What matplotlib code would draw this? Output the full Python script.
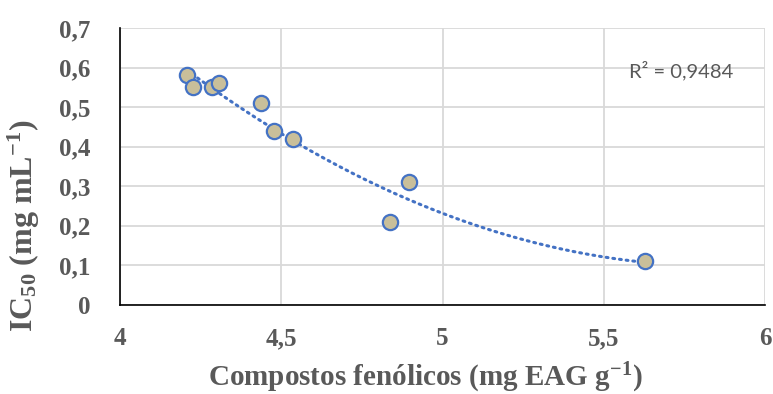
import numpy as np
import matplotlib
matplotlib.use('Agg')
from matplotlib import pyplot as plt

# ---------------- data ----------------
fenolicos = [4.207, 4.227, 4.286, 4.307, 4.437, 4.477, 4.536, 4.897, 4.838, 5.628]
ic50 = [0.58, 0.55, 0.55, 0.56, 0.51, 0.44, 0.42, 0.31, 0.21, 0.11]
x_ticks = [4, 4.5, 5, 5.5, 6]
x_tick_labels = ['4', '4,5', '5', '5,5', '6']
y_ticks = [0, 0.1, 0.2, 0.3, 0.4, 0.5, 0.6, 0.7]
y_tick_labels = ['0', '0,1', '0,2', '0,3', '0,4', '0,5', '0,6', '0,7']
r2_label = 'R² = 0,9484'

GRAY = '#595959'
BLUE = '#4472C4'

plt.rcParams['mathtext.fontset'] = 'custom'
plt.rcParams['mathtext.rm'] = 'Liberation Serif:bold'
plt.rcParams['mathtext.it'] = 'Liberation Serif:bold'
plt.rcParams['mathtext.bf'] = 'Liberation Serif:bold'
plt.rcParams['mathtext.default'] = 'rm'

# polynomial trendline (order 2), like the spreadsheet one
coef = np.polyfit(fenolicos, ic50, 2)
xs = np.linspace(min(fenolicos), max(fenolicos), 200)
ys = np.polyval(coef, xs)

fig = plt.figure(figsize=(7.73, 3.94), dpi=100)
ax = fig.add_axes([0.1552, 0.2269, 0.8345, 0.702])

ax.plot(xs, ys, linestyle=(0, (0.6, 1.6)), color=BLUE, linewidth=2.2,
        dash_capstyle='round', zorder=3)
ax.plot(fenolicos, ic50, linestyle='none', marker='o', markersize=11,
        markerfacecolor='#C9BF9A', markeredgecolor=BLUE, markeredgewidth=1.6, zorder=4)

ax.set_xlim(4, 6)
ax.set_ylim(0, 0.7)
ax.set_xticks(x_ticks)
ax.set_xticklabels(x_tick_labels)
ax.set_yticks(y_ticks)
ax.set_yticklabels(y_tick_labels)
ax.grid(True, color='#D9D9D9', linewidth=1.3)
ax.set_axisbelow(True)

for side in ['top', 'right']:
    ax.spines[side].set_visible(False)
for side in ['left', 'bottom']:
    ax.spines[side].set_color('black')
    ax.spines[side].set_linewidth(1.2)

ax.tick_params(axis='x', length=0, pad=16)
ax.tick_params(axis='y', length=0, pad=21)
for lab in ax.get_xticklabels() + ax.get_yticklabels():
    lab.set_fontfamily('Liberation Serif')
    lab.set_fontweight('bold')
    lab.set_fontsize(18)
    lab.set_color(GRAY)

ax.set_xlabel('Compostos fenólicos (mg EAG g$^{-1}$)', fontfamily='Liberation Serif',
              fontweight='bold', fontsize=21, color=GRAY)
ax.set_ylabel('IC$_{50}$ (mg mL$^{-1}$)', fontfamily='Liberation Serif',
              fontweight='bold', fontsize=23, color=GRAY)
ax.xaxis.set_label_coords(0.473, -0.205)
ax.yaxis.set_label_coords(-0.121, 0.286)

ax.text(0.87, 0.845, r2_label, transform=ax.transAxes, ha='center', va='center',
        fontfamily='Lato', fontsize=14.5, color=GRAY)

fig.savefig('out.png', dpi=100)
